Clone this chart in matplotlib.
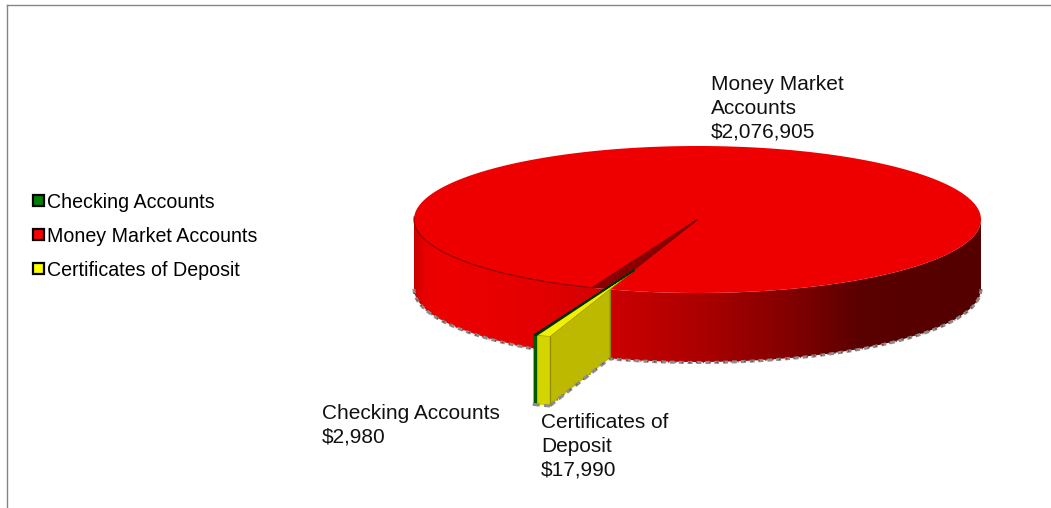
import numpy as np
import matplotlib
matplotlib.use("Agg")
import matplotlib.pyplot as plt
from matplotlib.patches import Polygon, Patch

# ---- data ----
categories = ["Checking Accounts", "Money Market Accounts", "Certificates of Deposit"]
wrapped_labels = ["Checking Accounts", "Money Market\nAccounts", "Certificates of\nDeposit"]
values = [2980, 2076905, 17990]

# ---- style / geometry ----
plt.rcParams["font.family"] = ["Liberation Sans", "DejaVu Sans"]
LEG_FS = 14.15
LAB_FS = 15
CX, CY, RX, RY, DEPTH = 697.5, 219.5, 283.5, 73.5, 69
FIRST = 21.29           # start of first slice, degrees clockwise from the front
TIP = np.array([-0.223, -0.689])   # explosion offset of the small slices (unit pie)
WEDGE_R = 0.95
GRAY = "#8c8c8c"

fig = plt.figure(figsize=(10.51, 5.08), dpi=100)
ax = fig.add_axes([7 / 1051, 0, 1 - 7 / 1051, 1 - 5 / 508])
ax.set_xticks([]); ax.set_yticks([])
for s in ("right", "bottom"):
    ax.spines[s].set_visible(False)
for s in ("left", "top"):
    ax.spines[s].set_color("#858585")
    ax.spines[s].set_linewidth(1.0)

total = sum(values)
sweep = [v / total * 360 for v in values]
g0, g1 = FIRST, FIRST + sweep[0]
r0, r1 = g1, g1 + sweep[1]
y0, y1 = r1, r1 + sweep[2]


def unit(t):
    t = np.radians(t)
    return np.column_stack([-np.sin(t), -np.cos(t)])


def px(u, drop=0.0):
    u = np.atleast_2d(u)
    return np.column_stack([CX + RX * u[:, 0], CY - RY * u[:, 1] + drop])


def wall(a, b, off=(0, 0), scale=1.0, n=200):
    u = scale * unit(np.linspace(a, b, n)) + np.array(off)
    return px(u), px(u, DEPTH)


# red wall across the whole front, with a horizontal shade gradient
xs = np.arange(CX - RX, CX + RX + 1)
shade = np.interp(xs, [414, 424, 440, 536, 600, 620, 700, 800, 860, 981],
                  [200, 232, 238, 228, 212, 200, 172, 125, 90, 84])
grad = np.zeros((1, len(xs), 3))
grad[0, :, 0] = shade / 255
top, bot = wall(-90, 90, n=400)
wall_poly = Polygon(np.vstack([top, bot[::-1]]), closed=True, fc="none", ec="none",
                    transform=ax.transData, zorder=2)
ax.add_patch(wall_poly)
im = ax.imshow(grad, extent=(xs[0], xs[-1], CY + 200, CY - 10), aspect="auto", zorder=2,
               interpolation="bilinear")
im.set_clip_path(wall_poly)
# rough grey shadow edge along the foot of the wall
for a, b in [(r0, 90), (-90, y0 - 360)]:
    _, foot = wall(a, b, n=400)
    ax.plot(foot[:, 0], foot[:, 1] + 0.5, color=GRAY, lw=2.2, dashes=(1.6, 1.3), zorder=3)
    ax.plot(foot[:, 0], foot[:, 1] + 0.5, color="#7a1010", lw=1.0, dashes=(1.0, 4), zorder=3, alpha=.7)

# red top face and dark gap
ang = np.linspace(r0, r1, 720)
ax.add_patch(Polygon(np.vstack([[CX, CY], px(unit(ang))]), closed=True, fc="#ee0000", ec="none", zorder=4))
gap = np.linspace(y0 - 360, r0, 10)
ax.add_patch(Polygon(np.vstack([[CX, CY], px(unit(gap))]), closed=True, fc="#8a0000", ec="none", zorder=4))
for a in (r0, y0):
    p = px(unit(a))[0]
    ax.plot([CX, p[0]], [CY, p[1]], color="#7a0000", lw=0.9, zorder=5)
# dark rim line between top and left wall
rim = px(unit(np.linspace(r0, 92, 150)))
ax.plot(rim[:, 0], rim[:, 1], color="#8a0000", lw=0.8, zorder=5)

# exploded small slices
tip = px(TIP)[0]
d = unit(y0)[0]
b = TIP @ d
r_hit = -b + np.sqrt(b * b - (TIP @ TIP - 1))
hit = px(TIP + r_hit * d)[0]
outer = px(TIP + WEDGE_R * d)[0]
ax.add_patch(Polygon([hit, outer, outer + [0, DEPTH], hit + [0, DEPTH]], closed=True,
                     fc="#bdb900", ec="none", zorder=6))
ax.plot([hit[0], hit[0]], [hit[1], hit[1] + DEPTH], color="#8f8a00", lw=0.8, zorder=7)
# foot of the cut face
ax.plot([outer[0], hit[0]], [outer[1] + DEPTH, hit[1] + DEPTH], color=GRAY, lw=2.4, dashes=(1.8, 1.4), zorder=7)
ax.plot([outer[0], hit[0]], [outer[1] + DEPTH, hit[1] + DEPTH], color="#6e6a00", lw=1.0, dashes=(1.0, 5), zorder=7)

# outer walls of yellow and green
top, bot = wall(y0, y1, TIP, WEDGE_R, 20)
ax.add_patch(Polygon(np.vstack([top, bot[::-1]]), closed=True, fc="#d4d400", ec="#d4d400", lw=0.5, zorder=7))
ax.plot([top[0, 0]] * 2, [top[0, 1], bot[0, 1]], color="#8f8a00", lw=0.9, zorder=8)
ax.plot(bot[:, 0], bot[:, 1] + 0.5, color=GRAY, lw=2.2, dashes=(2, 1.4), zorder=8)
top, bot = wall(g0, g1, TIP, WEDGE_R, 10)
ax.add_patch(Polygon(np.vstack([top, bot[::-1]]), closed=True, fc="#005a00", ec="#005a00", lw=1.0, zorder=7))
ax.plot(bot[:, 0], bot[:, 1] + 0.5, color=GRAY, lw=2.2, zorder=8)

# tops of yellow and green
ax.add_patch(Polygon(np.vstack([tip, px(TIP + WEDGE_R * unit(np.linspace(y0, y1, 10)))]), closed=True,
                     fc="#f0f000", ec="#a8a400", lw=0.5, zorder=9))
ax.add_patch(Polygon(np.vstack([tip, px(TIP + WEDGE_R * unit(np.linspace(g0, g1, 5)))]), closed=True,
                     fc="#007000", ec="#003000", lw=1.2, zorder=9))

# data labels (baseline of the last line given)
label_pos = [(322, 442), (711, 137), (541, 475)]
for name, val, (x, y) in zip(wrapped_labels, values, label_pos):
    ax.text(x, y, f"{name}\n${val:,}", ha="left", va="baseline", fontsize=LAB_FS,
            linespacing=1.29, color="#111111", zorder=10)

# legend
colors = ["#008000", "#ff0000", "#ffff00"]
handles = [Patch(fc=c, ec="black", lw=1.6) for c in colors]
ax.legend(handles, categories, loc="upper left", bbox_to_anchor=(33, 192.5), bbox_transform=ax.transData,
          frameon=False, fontsize=LEG_FS, handlelength=0.55, handleheight=0.55, handletextpad=0.16,
          labelspacing=0.764, borderpad=0, borderaxespad=0)

ax.set_xlim(7, 1051)
ax.set_ylim(508, 5)
fig.savefig("out.png", dpi=100)
